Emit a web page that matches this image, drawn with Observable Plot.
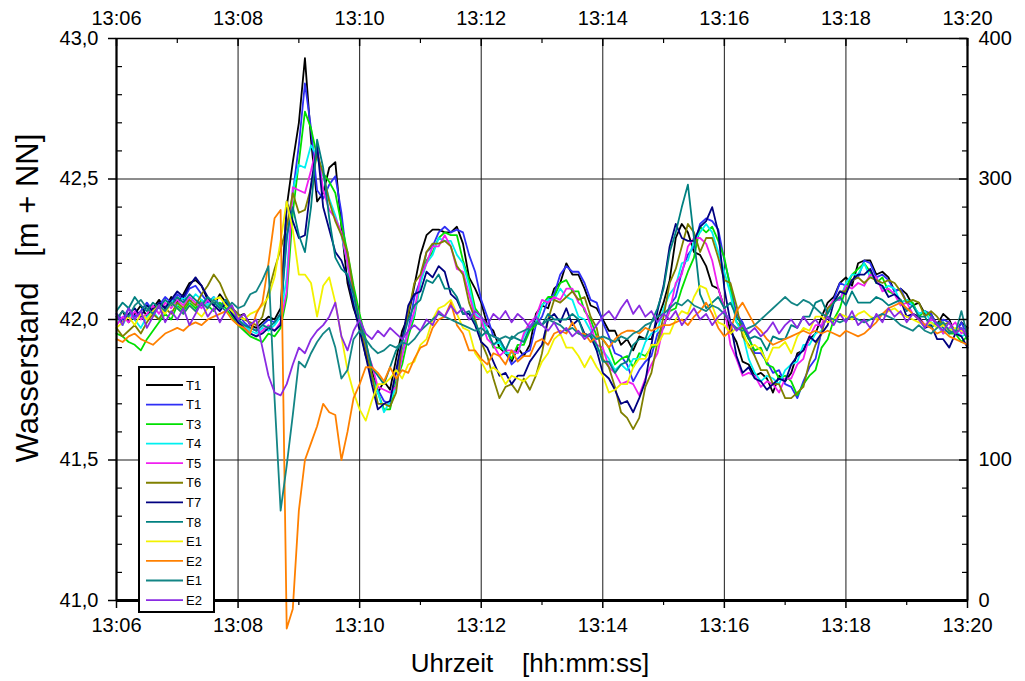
<!DOCTYPE html>
<html>
<head>
<meta charset="utf-8">
<script src="https://cdn.jsdelivr.net/npm/d3@7"></script>
<script src="https://cdn.jsdelivr.net/npm/@observablehq/plot@0.6"></script>
<style>
  html, body { margin: 0; padding: 0; background: #fff; }
  svg { display: block; }
</style>
</head>
<body>
<div id="chart"></div>
<script>
// ---- tick labels / axis data ----
const xTickSeconds = [0, 120, 240, 360, 480, 600, 720, 840];
const xTickLabels = ["13:06", "13:08", "13:10", "13:12", "13:14", "13:16", "13:18", "13:20"];
const xMinorSeconds = [60, 180, 300, 420, 540, 660, 780];
const xGridSeconds = [120, 240, 360, 480, 600, 720];
const yTickValues = [41.0, 41.5, 42.0, 42.5, 43.0];
const yTickLabels = ["41,0", "41,5", "42,0", "42,5", "43,0"];
const yRightLabels = ["0", "100", "200", "300", "400"];
const yMinorValues = [41.1, 41.2, 41.3, 41.4, 41.6, 41.7, 41.8, 41.9, 42.1, 42.2, 42.3, 42.4, 42.6, 42.7, 42.8, 42.9];
const yGridValues = [41.5, 42.0, 42.5];

// ---- series ----
const seriesNames = ["T1", "T1", "T3", "T4", "T5", "T6", "T7", "T8", "E1", "E2", "E1", "E2"];
const seriesColors = ["#000000", "#2f2ff5", "#00e000", "#00f0f0", "#f020f0", "#808000", "#000080", "#008080", "#f2f200", "#ff8000", "#138585", "#8a2be2"];

// sample times: seconds after 13:06:00, every 6 s
const seconds = d3.range(0, 841, 6);

const T1 = [
  42.00, 42.03, 41.99, 42.02, 42.05, 42.01, 42.04, 42.07, 42.04, 42.08, 42.06, 42.09, 42.13, 42.14, 42.12, 42.07, 42.05, 42.09, 42.06, 42.03, 42.01, 42.02, 41.98,
  41.97, 41.99, 42.01, 42.00, 42.04, 42.40, 42.56, 42.70, 42.93, 42.64, 42.42, 42.45, 42.54, 42.56, 42.33, 42.13, 42.04, 41.98,
  41.87, 41.82, 41.74, 41.78, 41.75, 41.86, 41.96, 42.01, 42.12, 42.23, 42.30, 42.32, 42.32, 42.31, 42.31, 42.33, 42.27, 42.15, 42.11, 42.06,
  41.98, 41.96, 41.90, 41.88, 41.85, 41.90, 41.87, 41.91, 42.02, 42.05, 42.04, 42.11, 42.13, 42.20, 42.16, 42.16, 42.11, 42.05, 42.04, 42.00,
  41.96, 41.96, 41.91, 41.93, 41.89, 41.94, 41.93, 41.93, 42.00, 42.06, 42.14, 42.29, 42.34, 42.31, 42.24, 42.23, 42.19, 42.12, 42.11, 42.04,
  41.96, 41.92, 41.85, 41.84, 41.80, 41.81, 41.79, 41.74, 41.80, 41.78, 41.81, 41.88, 41.89, 41.93, 41.95,
  42.01, 42.06, 42.08, 42.13, 42.15, 42.12, 42.20, 42.21, 42.21, 42.16, 42.17, 42.15, 42.10, 42.11, 42.09, 42.05, 42.06, 42.02, 42.02, 41.98, 42.02, 42.00, 41.95, 41.99, 41.97
];
const T2 = [
  42.02, 42.00, 42.04, 42.01, 42.03, 42.06, 42.03, 42.05, 42.08, 42.06, 42.09, 42.07, 42.11, 42.12, 42.09, 42.06, 42.08, 42.05, 42.07, 42.04, 42.02, 41.99, 41.97,
  41.96, 41.98, 42.00, 41.99, 42.02, 42.28, 42.45, 42.62, 42.84, 42.68, 42.46, 42.43, 42.48, 42.51, 42.38, 42.20, 42.07, 41.99,
  41.90, 41.80, 41.75, 41.71, 41.70, 41.81, 41.89, 41.96, 42.08, 42.14, 42.24, 42.26, 42.31, 42.33, 42.31, 42.32, 42.31, 42.23, 42.17, 42.07,
  42.01, 41.94, 41.93, 41.89, 41.84, 41.86, 41.88, 41.89, 41.98, 42.01, 42.07, 42.09, 42.16, 42.19, 42.17, 42.17, 42.13, 42.07, 42.06, 41.99,
  41.94, 41.88, 41.87, 41.84, 41.78, 41.82, 41.85, 41.87, 41.95, 41.97, 42.05, 42.08, 42.17, 42.23, 42.26, 42.34, 42.36, 42.35, 42.32, 42.21,
  42.12, 42.02, 41.99, 41.94, 41.88, 41.88, 41.85, 41.81, 41.82, 41.77, 41.76, 41.72, 41.78, 41.83, 41.86,
  41.96, 42.03, 42.07, 42.13, 42.12, 42.14, 42.15, 42.21, 42.20, 42.15, 42.16, 42.14, 42.10, 42.11, 42.06, 42.05, 42.02, 42.03, 42.02, 41.98, 42.00, 41.99, 41.95, 41.99, 41.94
];
const T3 = [
  41.95, 41.94, 41.92, 41.91, 41.89, 41.93, 41.96, 41.99, 42.02, 42.00, 42.05, 42.03, 42.06, 42.04, 42.07, 42.05, 42.03, 42.06, 42.04, 42.01, 41.98, 41.96, 41.94,
  41.93, 41.92, 41.95, 41.94, 41.97, 42.08, 42.38, 42.56, 42.74, 42.68, 42.58, 42.52, 42.49, 42.45, 42.34, 42.24, 42.12, 42.02,
  41.93, 41.80, 41.74, 41.68, 41.68, 41.78, 41.84, 41.94, 42.01, 42.13, 42.21, 42.24, 42.29, 42.31, 42.30, 42.30, 42.21, 42.14, 42.04, 42.01,
  41.96, 41.90, 41.90, 41.89, 41.86, 41.91, 41.91, 41.96, 41.98, 42.05, 42.08, 42.08, 42.13, 42.14, 42.10, 42.10, 42.03, 42.00, 41.94, 41.93,
  41.90, 41.84, 41.86, 41.87, 41.83, 41.88, 41.87, 41.90, 41.91, 41.98, 42.03, 42.04, 42.11, 42.17, 42.22, 42.33, 42.31, 42.33, 42.28, 42.22,
  42.11, 41.99, 41.97, 41.93, 41.89, 41.90, 41.84, 41.83, 41.79, 41.80, 41.78, 41.73, 41.77, 41.80, 41.82,
  41.90, 41.93, 42.00, 42.04, 42.11, 42.16, 42.18, 42.20, 42.17, 42.13, 42.15, 42.10, 42.09, 42.06, 42.07, 42.06, 42.01, 42.03, 42.01, 41.98, 41.99, 41.95, 41.95, 41.92, 41.94
];
const T4 = [
  42.01, 41.98, 42.02, 42.00, 41.97, 42.01, 42.03, 42.00, 42.04, 42.07, 42.05, 42.08, 42.06, 42.09, 42.07, 42.05, 42.08, 42.04, 42.06, 42.02, 42.00, 41.98, 41.96,
  41.95, 41.97, 41.96, 41.98, 42.01, 42.15, 42.46, 42.55, 42.54, 42.62, 42.58, 42.51, 42.43, 42.37, 42.30, 42.20, 42.08, 41.99,
  41.91, 41.79, 41.74, 41.67, 41.71, 41.76, 41.88, 41.96, 42.02, 42.13, 42.20, 42.23, 42.29, 42.28, 42.28, 42.23, 42.20, 42.12, 42.02, 42.00,
  41.96, 41.91, 41.92, 41.88, 41.88, 41.88, 41.94, 41.98, 41.99, 42.05, 42.07, 42.07, 42.11, 42.08, 42.07, 42.01, 42.00, 41.96, 41.89, 41.89,
  41.86, 41.82, 41.84, 41.82, 41.86, 41.86, 41.92, 41.95, 41.96, 42.04, 42.09, 42.12, 42.20, 42.21, 42.28, 42.31, 42.34, 42.31, 42.24, 42.17,
  42.09, 41.99, 41.95, 41.86, 41.81, 41.78, 41.80, 41.79, 41.77, 41.82, 41.84, 41.85, 41.91, 41.91, 41.95,
  41.96, 42.03, 42.07, 42.07, 42.13, 42.16, 42.16, 42.20, 42.15, 42.15, 42.11, 42.12, 42.11, 42.06, 42.07, 42.05, 42.02, 42.03, 41.99, 41.98, 41.95, 41.97, 41.96, 41.94, 41.95
];
const T5 = [
  41.98, 42.01, 41.99, 42.03, 42.00, 42.02, 42.05, 42.02, 42.06, 42.04, 42.07, 42.05, 42.08, 42.06, 42.04, 42.07, 42.05, 42.03, 42.06, 42.02, 41.99, 41.97, 41.95,
  41.94, 41.96, 41.98, 41.96, 41.99, 42.10, 42.47, 42.46, 42.45, 42.53, 42.62, 42.46, 42.39, 42.36, 42.31, 42.20, 42.09, 42.00,
  41.90, 41.84, 41.76, 41.75, 41.74, 41.76, 41.87, 41.96, 42.03, 42.15, 42.20, 42.26, 42.26, 42.30, 42.26, 42.18, 42.17, 42.09, 42.01, 42.00,
  41.93, 41.91, 41.87, 41.89, 41.89, 41.88, 41.95, 41.99, 42.01, 42.07, 42.06, 42.08, 42.07, 42.11, 42.11, 42.06, 42.04, 41.98, 41.91, 41.90,
  41.83, 41.81, 41.77, 41.78, 41.77, 41.73, 41.79, 41.84, 41.88, 41.98, 42.03, 42.13, 42.16, 42.26, 42.29, 42.29, 42.27, 42.21, 42.11, 42.04,
  41.91, 41.86, 41.80, 41.81, 41.80, 41.76, 41.78, 41.77, 41.74, 41.79, 41.79, 41.84, 41.86, 41.94, 41.98,
  41.98, 42.04, 42.07, 42.07, 42.12, 42.11, 42.13, 42.12, 42.16, 42.15, 42.10, 42.11, 42.09, 42.05, 42.06, 42.02, 42.01, 41.98, 42.00, 41.99, 41.95, 41.97, 41.99, 41.95, 41.97
];
const T6 = [
  41.97, 41.94, 41.96, 41.98, 41.95, 41.99, 42.02, 42.00, 42.04, 42.02, 42.06, 42.04, 42.07, 42.05, 42.09, 42.12, 42.16, 42.13, 42.08, 42.04, 42.02, 42.00, 41.99,
  41.98, 42.01, 42.10, 42.18, 42.25, 42.33, 42.45, 42.38, 42.39, 42.47, 42.59, 42.52, 42.42, 42.35, 42.30, 42.24, 42.10, 41.98,
  41.89, 41.80, 41.70, 41.70, 41.69, 41.74, 41.92, 42.02, 42.13, 42.16, 42.24, 42.27, 42.27, 42.28, 42.26, 42.19, 42.16, 42.06, 42.00, 41.92,
  41.87, 41.79, 41.72, 41.76, 41.77, 41.74, 41.79, 41.75, 41.80, 41.88, 42.00, 42.07, 42.06, 42.08, 42.10, 42.07, 42.08, 42.01, 41.97, 41.86,
  41.83, 41.76, 41.67, 41.65, 41.61, 41.65, 41.76, 41.81, 41.92, 42.01, 42.13, 42.18, 42.26, 42.34, 42.31, 42.24, 42.29, 42.29, 42.22, 42.14,
  42.13, 42.05, 41.94, 41.91, 41.87, 41.82, 41.82, 41.77, 41.77, 41.72, 41.72, 41.74, 41.76, 41.85, 41.91,
  41.95, 42.04, 42.06, 42.10, 42.10, 42.14, 42.15, 42.13, 42.15, 42.14, 42.13, 42.14, 42.13, 42.10, 42.06, 42.07, 42.06, 42.01, 42.03, 42.01, 41.98, 41.99, 41.95, 41.97, 41.93
];
const T7 = [
  42.01, 41.99, 42.02, 42.04, 42.01, 42.05, 42.03, 42.06, 42.04, 42.07, 42.10, 42.08, 42.12, 42.15, 42.12, 42.08, 42.05, 42.03, 42.06, 42.02, 41.99, 41.97, 41.95,
  41.94, 41.95, 41.97, 41.96, 41.98, 42.42, 42.35, 42.29, 42.30, 42.48, 42.62, 42.40, 42.32, 42.24, 42.21, 42.15, 42.05, 41.96,
  41.87, 41.77, 41.68, 41.70, 41.71, 41.82, 41.93, 42.05, 42.09, 42.10, 42.17, 42.15, 42.19, 42.17, 42.09, 42.07, 42.02, 42.02, 41.98, 41.92,
  41.90, 41.85, 41.80, 41.81, 41.77, 41.80, 41.80, 41.85, 41.88, 41.91, 42.00, 42.02, 41.99, 42.04, 41.98, 42.00, 41.95, 41.94, 41.89, 41.81,
  41.79, 41.75, 41.70, 41.71, 41.67, 41.72, 41.78, 41.91, 42.03, 42.12, 42.26, 42.34, 42.29, 42.28, 42.28, 42.33, 42.35, 42.40, 42.31, 42.11,
  41.99, 41.87, 41.81, 41.83, 41.79, 41.78, 41.75, 41.77, 41.79, 41.78, 41.84, 41.87, 41.89, 41.94, 41.92,
  41.95, 41.98, 42.06, 42.10, 42.09, 42.14, 42.16, 42.16, 42.18, 42.13, 42.12, 42.08, 42.09, 42.07, 42.01, 42.02, 42.01, 41.97, 41.98, 41.93, 41.93, 41.90, 41.95, 41.94, 41.90
];
const T8 = [
  42.03, 42.06, 42.04, 42.08, 42.05, 42.03, 42.06, 42.04, 42.07, 42.05, 42.08, 42.06, 42.09, 42.07, 42.05, 42.08, 42.06, 42.04, 42.07, 42.03, 42.00, 41.98, 41.97,
  41.96, 41.98, 41.97, 41.99, 42.02, 42.30, 42.40, 42.30, 42.24, 42.40, 42.64, 42.54, 42.36, 42.22, 42.18, 42.16, 42.09, 41.99,
  41.92, 41.83, 41.80, 41.77, 41.83, 41.89, 41.92, 42.00, 42.05, 42.07, 42.14, 42.13, 42.16, 42.11, 42.11, 42.08, 42.02, 42.03, 41.99, 41.94,
  41.96, 41.91, 41.93, 41.89, 41.94, 41.93, 41.92, 41.97, 41.99, 41.98, 42.02, 42.00, 42.00, 42.00, 42.02, 42.00, 41.94, 41.94, 41.91, 41.85,
  41.85, 41.81, 41.84, 41.85, 41.91, 41.93, 41.93, 41.99, 42.04, 42.11, 42.24, 42.31, 42.40, 42.48, 42.29, 42.09, 42.04, 42.06, 42.08, 42.04,
  42.06, 42.01, 41.98, 41.93, 41.94, 41.93, 41.89, 41.94, 41.93, 41.93, 41.98, 41.97, 42.01, 42.01, 42.06,
  42.07, 42.02, 42.06, 42.08, 42.05, 42.10, 42.06, 42.06, 42.06, 42.08, 42.07, 42.05, 42.06, 42.07, 42.03, 42.05, 42.01, 42.01, 41.97, 41.99, 41.97, 41.95, 41.96, 41.97, 41.93
];
const E1 = [
  41.97, 41.99, 42.01, 41.98, 42.02, 42.00, 42.03, 42.05, 42.02, 42.06, 42.04, 42.02, 42.05, 42.03, 42.01, 42.04, 42.07, 42.08, 42.05, 42.03, 42.01, 42.00, 42.02,
  42.03, 42.05, 42.08, 42.15, 42.28, 42.42, 42.32, 42.16, 42.16, 42.13, 42.01, 42.12, 42.15, 42.06, 41.94, 41.82, 41.74, 41.68,
  41.64, 41.71, 41.77, 41.77, 41.79, 41.82, 41.79, 41.84, 41.85, 41.91, 41.93, 42.00, 42.04, 42.05, 42.07, 42.02, 41.97, 41.96, 41.88, 41.85,
  41.81, 41.83, 41.81, 41.77, 41.80, 41.79, 41.78, 41.80, 41.80, 41.85, 41.88, 41.93, 41.95, 41.90, 41.90, 41.87, 41.83, 41.87, 41.83, 41.80,
  41.74, 41.75, 41.77, 41.77, 41.83, 41.86, 41.86, 41.91, 41.91, 41.95, 41.95, 42.00, 42.03, 42.02, 42.08, 42.12, 42.11, 42.05, 41.99, 41.98,
  41.95, 41.97, 41.96, 41.90, 41.91, 41.89, 41.85, 41.90, 41.90, 41.92, 41.88, 41.94, 41.97, 41.96, 42.01,
  42.01, 41.99, 42.00, 42.02, 42.01, 42.00, 42.02, 42.03, 42.01, 42.00, 42.02, 42.03, 42.04, 42.02, 42.01, 42.00, 41.99, 41.98, 41.99, 41.97, 41.98, 41.96, 41.97, 41.96, 41.95
];
const E2 = [
  41.93, 41.92, 41.94, 41.95, 41.93, 41.92, 41.91, 41.93, 41.95, 41.96, 41.97, 41.96, 41.98, 41.99, 41.98, 42.00, 42.01, 42.02, 42.03, 42.00, 41.98, 41.97, 41.95,
  42.02, 42.06, 42.20, 42.36, 42.39, 40.90, 40.97, 41.32, 41.50, 41.56, 41.62, 41.70, 41.67, 41.66, 41.50, 41.60, 41.72, 41.77,
  41.83, 41.83, 41.81, 41.78, 41.83, 41.79, 41.82, 41.81, 41.86, 41.90, 41.91, 41.97, 42.00, 42.01, 42.06, 41.98, 41.95, 41.89, 41.89, 41.86,
  41.84, 41.88, 41.87, 41.84, 41.89, 41.85, 41.87, 41.87, 41.92, 41.93, 41.91, 41.95, 41.96, 41.95, 41.99, 41.95, 41.95, 41.92, 41.94, 41.93,
  41.90, 41.93, 41.95, 41.96, 41.96, 41.95, 41.97, 41.96, 41.97, 41.98, 41.98, 41.99, 42.00, 41.98, 42.01, 42.03, 42.06, 42.02, 41.97, 41.94,
  41.96, 42.03, 42.06, 42.02, 41.98, 41.96, 41.93, 41.91, 41.92, 41.93, 41.94, 41.95, 41.96, 41.95, 41.96,
  41.95, 41.96, 41.95, 41.94, 41.96, 41.95, 41.94, 41.95, 41.97, 41.99, 42.02, 42.04, 42.05, 42.06, 42.04, 42.02, 42.00, 41.98, 41.97, 41.95, 41.96, 41.94, 41.93, 41.92, 41.91
];
const E1b = [
  42.00, 42.03, 42.01, 42.05, 42.07, 42.04, 42.02, 42.05, 42.03, 42.06, 42.04, 42.02, 42.05, 42.03, 42.06, 42.04, 42.07, 42.05, 42.03, 42.06, 42.04, 42.05, 42.09,
  42.10, 42.14, 42.19, 41.72, 41.32, 41.48, 41.66, 41.85, 41.83, 41.88, 41.92, 41.95, 41.97, 41.90, 41.79, 41.82, 41.93, 41.96,
  41.93, 41.90, 41.88, 41.89, 41.91, 41.90, 41.92, 41.91, 41.93, 41.96, 41.98, 42.00, 42.02, 42.01, 42.00, 41.99, 41.98, 41.97, 41.96, 41.97,
  41.95, 41.94, 41.93, 41.94, 41.93, 41.95, 41.96, 41.97, 41.99, 41.98, 42.00, 41.99, 41.98, 41.96, 41.97, 41.95, 41.94, 41.95, 41.93, 41.94,
  41.93, 41.92, 41.94, 41.93, 41.95, 41.96, 41.98, 41.99, 42.01, 42.02, 42.04, 42.06, 42.05, 42.07, 42.05, 42.04, 42.03, 42.05, 42.04, 42.02,
  41.99, 41.97, 41.96, 41.97, 41.98, 42.00, 42.02, 42.04, 42.06, 42.08, 42.06, 42.05, 42.07, 42.06, 42.04,
  42.02, 42.01, 42.00, 41.99, 42.00, 42.01, 42.00, 41.99, 42.00, 42.01, 42.02, 42.01, 42.00, 41.98, 41.97, 41.96, 41.98, 41.96, 41.95, 41.97, 41.99, 41.96, 41.95, 42.03, 41.94
];
const E2b = [
  42.02, 41.98, 42.04, 42.00, 42.03, 41.97, 42.01, 42.05, 41.99, 42.03, 42.00, 42.04, 41.98, 42.02, 42.06, 42.01, 42.04, 41.99, 42.03, 42.05, 42.00, 42.02, 41.98,
  42.00, 41.90, 41.80, 41.74, 41.73, 41.77, 41.84, 41.90, 41.88, 41.93, 41.96, 41.98, 42.01, 42.06, 41.94, 41.89, 41.96, 42.00,
  41.95, 41.93, 41.96, 41.94, 41.97, 41.95, 41.93, 41.96, 41.98, 41.96, 42.00, 41.98, 42.03, 42.01, 42.05, 42.02, 42.04, 42.00, 42.03, 42.01,
  41.98, 42.02, 42.00, 42.03, 41.99, 42.02, 42.00, 41.97, 42.01, 41.98, 41.96, 41.99, 41.95, 41.97, 41.94, 41.96, 41.93, 41.95, 41.98, 42.01,
  42.03, 42.00, 42.04, 42.07, 42.02, 42.05, 42.01, 42.03, 41.99, 42.02, 42.00, 42.03, 41.98, 42.01, 42.04, 42.00, 42.02, 41.98, 42.01, 42.03,
  41.99, 41.96, 41.98, 41.95, 41.97, 41.94, 41.96, 41.99, 41.95, 41.98, 42.00, 41.97, 42.01, 41.98, 42.00,
  41.97, 42.01, 41.98, 42.02, 41.99, 42.03, 41.98, 42.00, 41.97, 42.02, 41.99, 42.04, 42.01, 42.03, 41.99, 42.02, 42.00, 41.97, 42.01, 41.98, 41.96, 41.99, 41.95, 41.97, 41.94
];

const seriesValues = [T1, T2, T3, T4, T5, T6, T7, T8, E1, E2, E1b, E2b];

// ---- layout ----
const W = 1025, H = 681;
const mL = 116, mR = 58, mT = 38, mB = 81;
const innerW = W - mL - mR, innerH = H - mT - mB;

const xLabel = d => xTickLabels[xTickSeconds.indexOf(d)];
const yLabel = d => yTickLabels[yTickValues.indexOf(d)];
const yRLabel = d => yRightLabels[yTickValues.indexOf(d)];

const marks = [
  Plot.ruleX(xGridSeconds, {stroke: "#1a1a1a", strokeWidth: 1}),
  Plot.ruleY(yGridValues, {stroke: "#1a1a1a", strokeWidth: 1})
];
seriesValues.forEach((vals, k) => {
  const rows = vals.map((v, i) => ({t: seconds[i], v}));
  marks.push(Plot.line(rows, {x: "t", y: "v", stroke: seriesColors[k], strokeWidth: 1.8}));
});
marks.push(
  Plot.frame({stroke: "#000", strokeWidth: 1.5}),
  Plot.ruleY([41], {stroke: "#000", strokeWidth: 3}),
  Plot.ruleX([0], {stroke: "#000", strokeWidth: 2}),
  Plot.ruleX([840], {stroke: "#000", strokeWidth: 2}),
  // bottom axis
  Plot.axisX({anchor: "bottom", ticks: xTickSeconds, tickSize: 8, tickPadding: 9, tickFormat: xLabel, fontSize: 20, strokeWidth: 1.5}),
  Plot.axisX({anchor: "bottom", ticks: xMinorSeconds, tickSize: 5, tickFormat: () => "", strokeWidth: 1.2}),
  // top axis (labels + inward ticks)
  Plot.axisX({anchor: "top", ticks: xTickSeconds, tickSize: 0, tickPadding: 14, tickFormat: xLabel, fontSize: 20}),
  Plot.tickX(xTickSeconds, {x: d => d, insetBottom: innerH - 8, stroke: "#000", strokeWidth: 1.5}),
  Plot.tickX(xMinorSeconds, {x: d => d, insetBottom: innerH - 5, stroke: "#000", strokeWidth: 1.2}),
  // left axis
  Plot.axisY({anchor: "left", ticks: yTickValues, tickSize: 8, tickPadding: 10, tickFormat: yLabel, fontSize: 20, strokeWidth: 1.5}),
  Plot.tickY(yMinorValues, {y: d => d, insetRight: innerW - 6, stroke: "#000", strokeWidth: 1.2}),
  // right axis
  Plot.axisY({anchor: "right", ticks: yTickValues, tickSize: 0, tickPadding: 11, tickFormat: yRLabel, fontSize: 20}),
  Plot.tickY(yTickValues, {y: d => d, insetLeft: innerW - 8, stroke: "#000", strokeWidth: 1.5}),
  Plot.tickY(yMinorValues, {y: d => d, insetLeft: innerW - 5, stroke: "#000", strokeWidth: 1.2})
);

const chart = Plot.plot({
  width: W, height: H,
  marginLeft: mL, marginRight: mR, marginTop: mT, marginBottom: mB,
  x: {domain: [0, 840], label: null},
  y: {domain: [41, 43], label: null},
  style: {fontFamily: "'Liberation Sans', Arial, sans-serif", fontSize: "20px", background: "#fff", color: "#000", overflow: "visible"},
  marks
});

document.getElementById("chart").appendChild(chart);

// ---- axis titles and legend ----
const svg = d3.select(chart);
svg.append("text")
  .attr("x", 530).attr("y", 672)
  .attr("text-anchor", "middle")
  .attr("font-size", 26)
  .attr("font-family", "'Liberation Sans', Arial, sans-serif")
  .attr("fill", "#000")
  .style("white-space", "pre")
  .text("Uhrzeit    [hh:mm:ss]");
svg.append("text")
  .attr("transform", "translate(38,298) rotate(-90)")
  .attr("text-anchor", "middle")
  .attr("font-size", 31)
  .attr("font-family", "'Liberation Sans', Arial, sans-serif")
  .attr("fill", "#000")
  .style("white-space", "pre")
  .text("Wasserstand   [m + NN]");

const lg = svg.append("g");
lg.append("rect")
  .attr("x", 139).attr("y", 367).attr("width", 75).attr("height", 245)
  .attr("fill", "#fff").attr("stroke", "#000").attr("stroke-width", 2);
seriesNames.forEach((name, k) => {
  const y = 385 + k * 19.55;
  lg.append("line")
    .attr("x1", 146).attr("x2", 183).attr("y1", y).attr("y2", y)
    .attr("stroke", seriesColors[k]).attr("stroke-width", 1.8);
  lg.append("text")
    .attr("x", 186).attr("y", y).attr("dy", "0.36em")
    .attr("text-anchor", "start")
    .attr("font-size", 13)
    .attr("font-family", "'Liberation Sans', Arial, sans-serif")
    .attr("fill", "#000")
    .text(name);
});
</script>
</body>
</html>
